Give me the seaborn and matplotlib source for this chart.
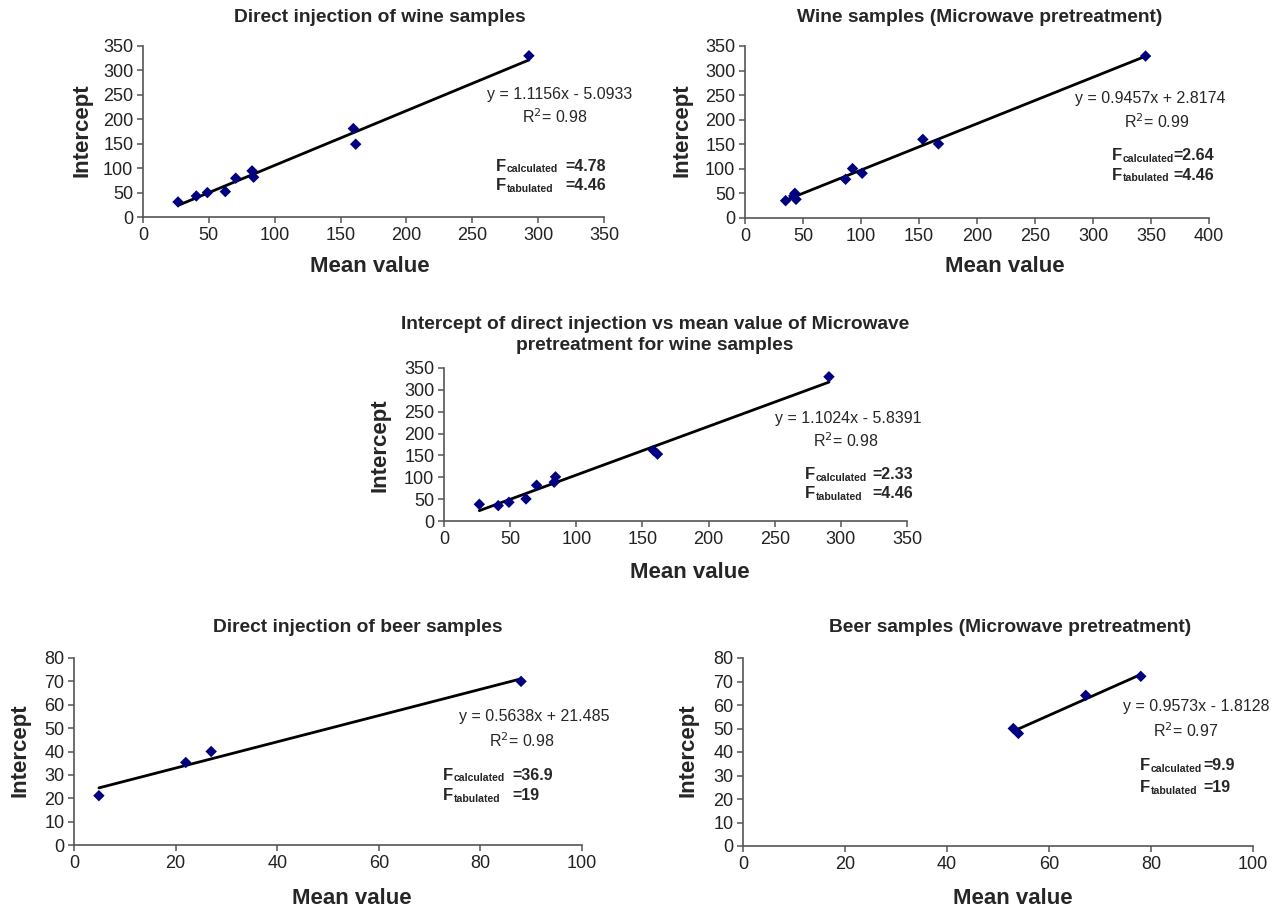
import numpy as np
import pandas as pd
import matplotlib
matplotlib.use("Agg")
import matplotlib.pyplot as plt
import seaborn as sns

# Data
wine_direct_x = [26.6, 40.5, 48.9, 62.5, 70.4, 82.8, 84.0, 159.7, 161.5, 293.0]
wine_direct_y = [30.8, 43.0, 50.0, 52.0, 79.4, 94.4, 81.4, 181.0, 149.0, 330.0]

wine_micro_x = [35.0, 42.0, 43.0, 44.0, 86.7, 92.7, 101.0, 153.3, 166.8, 345.3]
wine_micro_y = [35.3, 45.0, 50.3, 38.0, 78.8, 100.5, 91.0, 160.0, 150.8, 329.5]

wine_cross_x = [26.7, 41.0, 49.1, 62.0, 70.0, 83.3, 84.3, 158.4, 161.4, 291.0]
wine_cross_y = [38.2, 35.2, 42.8, 50.5, 81.8, 88.7, 101.0, 161.3, 153.0, 330.0]

beer_direct_x = [4.9, 22.0, 27.0, 88.0]
beer_direct_y = [21.1, 35.3, 40.0, 70.0]

beer_micro_x = [53.0, 54.0, 67.2, 78.0]
beer_micro_y = [50.0, 47.9, 64.1, 72.2]

titles = ["Direct injection of wine samples",
          "Wine samples (Microwave pretreatment)",
          "Intercept of direct injection vs mean value of Microwave\npretreatment for wine samples",
          "Direct injection of beer samples",
          "Beer samples (Microwave pretreatment)"]
equations = ["y = 1.1156x - 5.0933", "y = 0.9457x + 2.8174", "y = 1.1024x - 5.8391",
             "y = 0.5638x + 21.485", "y = 0.9573x - 1.8128"]
r2_values = ["0.98", "0.99", "0.98", "0.98", "0.97"]
f_calc = ["=4.78", "=2.64", "=2.33", "=36.9", "=9.9"]
f_tab = ["=4.46", "=4.46", "=4.46", "=19", "=19"]

sns.set_style("white")
plt.rcParams['font.family'] = ['Liberation Sans', 'DejaVu Sans']

W, H = 1273, 909
fig = plt.figure(figsize=(W / 100, H / 100), dpi=100)


def px_axes(left, right, top, bottom):
    return fig.add_axes([left / W, 1 - bottom / H, (right - left) / W, (bottom - top) / H])


def ftext(x, y, s, **kw):
    fig.text(x / W, 1 - y / H, s, **kw)


# (left, right, top, bottom) in pixels, xmax, xstep, ymax, ystep
panels = [
    ((143, 604, 46, 217), 350, 50, 350, 50, wine_direct_x, wine_direct_y),
    ((745, 1209, 46, 218), 400, 50, 350, 50, wine_micro_x, wine_micro_y),
    ((444, 907, 368, 521), 350, 50, 350, 50, wine_cross_x, wine_cross_y),
    ((74, 582, 658, 845), 100, 20, 80, 10, beer_direct_x, beer_direct_y),
    ((743, 1253, 658, 846), 100, 20, 80, 10, beer_micro_x, beer_micro_y),
]

for box, xmax, xstep, ymax, ystep, xs, ys in panels:
    ax = px_axes(*box)
    df = pd.DataFrame({"Mean value": xs, "Intercept": ys})
    sns.regplot(data=df, x="Mean value", y="Intercept", ax=ax, ci=None, truncate=True,
                marker="D", color="#000080",
                scatter_kws={"s": 34, "edgecolor": "none", "alpha": 1, "zorder": 3},
                line_kws={"color": "black", "lw": 2})
    ax.set_xlim(0, xmax)
    ax.set_ylim(0, ymax)
    ax.set_xticks(np.arange(0, xmax + 1, xstep))
    ax.set_yticks(np.arange(0, ymax + 1, ystep))
    ax.set_xlabel("")
    ax.set_ylabel("")
    sns.despine(ax=ax)
    for sp in ["left", "bottom"]:
        ax.spines[sp].set_color("#555555")
        ax.spines[sp].set_linewidth(1.2)
    ax.tick_params(direction="out", length=4, width=1.1, color="#555555",
                   labelsize=13, pad=3, left=True, bottom=True, labelcolor="#222222")
    ax.patch.set_alpha(0)

# Titles
title_pos = [(380, 18), (980, 18), (655, 335), (358, 627), (1010, 627)]
for (x, y), t in zip(title_pos, titles):
    ftext(x, y, t, ha="center", va="center", fontsize=13.8, fontweight="bold",
          linespacing=1.3)

# Axis labels
xlab_pos = [(370, 266), (1005, 266), (690, 573), (352, 899), (1013, 899)]
ylab_pos = [(82, 130), (682, 130), (380, 445), (20, 750), (688, 750)]
for (x, y) in xlab_pos:
    ftext(x, y, "Mean value", ha="center", va="center", fontsize=16, fontweight="bold")
for (x, y) in ylab_pos:
    ftext(x, y, "Intercept", ha="center", va="center", fontsize=16, fontweight="bold",
          rotation=90)

# Equations and statistics
eq_pos = [(560, 95), (1150, 98), (848, 418), (534, 716), (1196, 707)]
r2_pos = [(555, 117), (1157, 122), (846, 441), (522, 741), (1186, 731)]
f_pos = [(496, 166, 186, 565), (1112, 156, 175, 1173), (805, 475, 494, 872),
         (443, 775, 796, 512), (1140, 766, 788, 1203)]

for i in range(5):
    ftext(*eq_pos[i], equations[i], ha="center", va="center", fontsize=11.5)
    ftext(*r2_pos[i], "R$^2$= " + r2_values[i], ha="center", va="center", fontsize=11.5)
    fx, yc, yt, vx = f_pos[i]
    for yy, sub, val in [(yc, "calculated", f_calc[i]), (yt, "tabulated", f_tab[i])]:
        ftext(fx, yy, "F", ha="left", va="center", fontsize=12, fontweight="bold")
        ftext(fx + 11, yy + 3, sub, ha="left", va="center", fontsize=7.6, fontweight="bold")
        ftext(vx, yy, val, ha="left", va="center", fontsize=11.5, fontweight="bold")

fig.savefig("out.png", dpi=100)
